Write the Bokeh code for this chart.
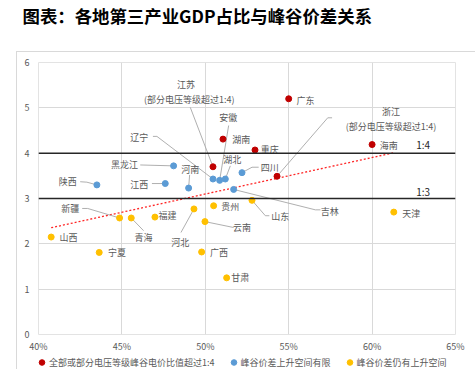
import numpy as np
from bokeh.plotting import figure
from bokeh.layouts import column
from bokeh.models import (Span, Label, Legend, LegendItem, FixedTicker, Title,
                          PrintfTickFormatter, Range1d, InlineStyleSheet)
from bokeh.core.properties import value
from bokeh.embed import file_html
from bokeh.resources import INLINE

FONT = "Noto Sans CJK SC"

title_text = "图表：各地第三产业GDP占比与峰谷价差关系"
series_names = ["全部或部分电压等级峰谷电价比值超过1:4",
                "峰谷价差上升空间有限",
                "峰谷价差仍有上升空间"]
series_colors = ["#C00000", "#5B9BD5", "#FFC000"]

# Series 1: peak/valley ratio above 1:4 (all or some voltage levels)
red_names = ["江苏", "湖南", "广东", "重庆", "浙江", "海南"]
red_x = [50.46, 51.06, 55.0, 52.98, 54.30, 60.0]
red_y = [3.70, 4.31, 5.20, 4.07, 3.49, 4.19]

# Series 2: limited room for the price spread to rise
blue_names = ["陕西", "黑龙江", "江西", "河南", "辽宁", "安徽", "湖北", "四川", "吉林"]
blue_x = [43.5, 48.1, 47.6, 49.0, 50.46, 50.86, 51.2, 52.2, 51.7]
blue_y = [3.30, 3.72, 3.33, 3.23, 3.43, 3.40, 3.43, 3.57, 3.20]

# Series 3: still room to rise
yellow_names = ["山东", "新疆", "青海", "福建", "河北", "贵州", "云南", "山西",
                "宁夏", "广西", "甘肃", "天津"]
yellow_x = [52.8, 44.86, 45.56, 46.98, 49.32, 50.5, 49.98, 40.76, 43.64, 49.78, 51.28, 61.3]
yellow_y = [2.96, 2.57, 2.57, 2.59, 2.77, 2.84, 2.49, 2.15, 1.81, 1.82, 1.25, 2.70]

x_ticks = [40, 45, 50, 55, 60, 65]
y_ticks = [0, 1, 2, 3, 4, 5, 6]
ratio_levels = [4, 3]
ratio_labels = ["1:4", "1:3"]
note_text = "(部分电压等级超过1:4)"

# ---- label layout (positions only) ----
label_pos = {
    "江苏": (48.84, 5.52), "安徽": (51.38, 4.78), "湖南": (52.16, 4.30),
    "湖北": (51.62, 3.85), "四川": (53.86, 3.69), "浙江": (61.14, 4.92),
    "广东": (56.0, 5.17), "重庆": (53.86, 4.09), "海南": (61.0, 4.17),
    "辽宁": (46.04, 4.35), "黑龙江": (45.16, 3.74), "河南": (49.10, 3.63),
    "陕西": (41.76, 3.38), "江西": (46.04, 3.31), "吉林": (57.46, 2.71),
    "山东": (54.50, 2.60), "新疆": (41.9, 2.78), "青海": (46.3, 2.15),
    "福建": (47.74, 2.62), "河北": (48.5, 2.04), "贵州": (51.5, 2.82),
    "云南": (52.2, 2.35), "山西": (41.8, 2.13), "宁夏": (44.7, 1.80),
    "广西": (50.82, 1.80), "甘肃": (52.1, 1.25), "天津": (62.34, 2.68),
}
note_pos = {"江苏": (49.04, 5.19), "浙江": (61.14, 4.59)}
ratio_label_pos = [(63.06, 4.20), (63.06, 3.16)]

leader_paths = {
    "江苏": [(49.1, 5.01)],
    "安徽": [(51.4, 4.61)],
    "湖北": [(51.5, 3.72)],
    "四川": [(53.20, 3.69), (52.80, 3.69)],
    "浙江": [(57.6, 4.78), (57.34, 4.78)],
    "辽宁": [(46.86, 4.37), (47.1, 4.37)],
    "黑龙江": [(46.1, 3.74)],
    "河南": [(49.06, 3.52)],
    "陕西": [(42.5, 3.37), (42.9, 3.36)],
    "江西": [(46.8, 3.33)],
    "吉林": [(56.9, 2.75), (56.6, 2.75)],
    "山东": [(53.84, 2.62), (53.6, 2.62)],
    "新疆": [(42.62, 2.78), (42.95, 2.78)],
    "青海": [(46.3, 2.29)],
    "河北": [(48.54, 2.25)],
    "云南": [(51.7, 2.36)],
}

p = figure(width=475, height=355, output_backend="svg", toolbar_location=None,
           title=None,
           x_range=Range1d(40, 65), y_range=Range1d(0, 6),
           min_border_left=38, min_border_right=20, min_border_top=61,
           min_border_bottom=18)
p.outline_line_color = "#E3E3E3"
p.background_fill_color = "white"
p.border_fill_color = "white"

# title: a blank spacer next to the frame, then the real title above it
p.add_layout(Title(text=" ", text_font_size="1px", standoff=32), "above")
p.add_layout(Title(text=title_text, text_font=FONT, text_font_size="17.4px",
                   text_font_style="bold", text_color="#000000", align="left",
                   offset=-16, standoff=0), "above")

# axes
for ax in (p.xaxis[0], p.yaxis[0]):
    ax.axis_line_color = None
    ax.major_tick_line_color = None
    ax.minor_tick_line_color = None
    ax.major_tick_out = 0
    ax.major_tick_in = 0
    ax.major_label_text_font = FONT
    ax.major_label_text_font_size = "9px"
    ax.major_label_text_color = "#595959"
p.xaxis.ticker = FixedTicker(ticks=x_ticks)
p.yaxis.ticker = FixedTicker(ticks=y_ticks)
p.xaxis.formatter = PrintfTickFormatter(format="%d%%")
p.xaxis.major_label_standoff = 5
p.yaxis.major_label_standoff = 9
p.xgrid.ticker = FixedTicker(ticks=x_ticks)
p.ygrid.ticker = FixedTicker(ticks=y_ticks)
p.xgrid.grid_line_color = "#D9D9D9"
p.ygrid.grid_line_color = "#D9D9D9"

# ratio reference lines
for lv in ratio_levels:
    p.add_layout(Span(location=lv, dimension="width", line_color="#262626",
                      line_width=1.5))
for (lx, ly), t in zip(ratio_label_pos, ratio_labels):
    p.add_layout(Label(x=lx, y=ly, text=t, text_font=FONT, text_font_size="10px",
                       text_color="#262626", text_align="center",
                       text_baseline="middle"))

# trend line (linear fit over all provinces)
all_x = np.array(red_x + blue_x + yellow_x)
all_y = np.array(red_y + blue_y + yellow_y)
k, b = np.polyfit(all_x, all_y, 1)
tx = np.array([all_x.min(), all_x.max()])
p.line(tx, k * tx + b, line_color="#FF0000", line_width=1.3, line_dash="2 2",
       line_alpha=0.85)

# leader lines
point_lookup = {}
for names, xs, ys in ((red_names, red_x, red_y), (blue_names, blue_x, blue_y),
                      (yellow_names, yellow_x, yellow_y)):
    for n, xx, yy in zip(names, xs, ys):
        point_lookup[n] = (xx, yy)
lxs, lys = [], []
for n, pts in leader_paths.items():
    px, py = point_lookup[n]
    lxs.append([q[0] for q in pts] + [px])
    lys.append([q[1] for q in pts] + [py])
p.multi_line(lxs, lys, line_color="#A6A6A6", line_width=0.9)

# points
series = ((red_names, red_x, red_y, series_colors[0]),
          (blue_names, blue_x, blue_y, series_colors[1]),
          (yellow_names, yellow_x, yellow_y, series_colors[2]))
for names, xs, ys, c in series:
    p.scatter(xs, ys, size=6, fill_color=c, line_color=c)

# labels
names_all = list(label_pos.keys())
p.text([label_pos[n][0] for n in names_all], [label_pos[n][1] for n in names_all],
       text=names_all, text_font=value(FONT), text_font_size="9px",
       text_color="#595959", text_align="center", text_baseline="middle")
p.text([v[0] for v in note_pos.values()], [v[1] for v in note_pos.values()],
       text=[note_text] * len(note_pos), text_font=value(FONT), text_font_size="9px",
       text_color="#595959", text_align="center", text_baseline="middle")

# legend strip below the chart (its frame is aligned with the chart's frame)
lg = figure(width=475, height=14, output_backend="svg", toolbar_location=None,
            x_range=Range1d(0, 1), y_range=Range1d(0, 1),
            min_border_left=0, min_border_right=0, min_border_top=0,
            min_border_bottom=0, x_axis_type=None, y_axis_type=None)
lg.outline_line_color = None
lg.xgrid.visible = False
lg.ygrid.visible = False
lg.border_fill_color = "white"
items = []
for (names, xs, ys, c), name in zip(series, series_names):
    # same series data; falls outside this strip's ranges, only the legend glyph shows
    r = lg.scatter(xs, ys, size=6, fill_color=c, line_color=c)
    items.append(LegendItem(label=name, renderers=[r]))
legend = Legend(items=items, location=(-4, 0), orientation="horizontal",
                glyph_width=15, glyph_height=14, label_standoff=0, spacing=11,
                padding=0, margin=0, border_line_color=None,
                background_fill_alpha=0, label_text_font=FONT,
                label_text_font_size="9px", label_text_color="#595959",
                label_height=12)
lg.add_layout(legend)

box_css = InlineStyleSheet(css="""
:host { position: relative; }
:host::after {
  content: ""; position: absolute; left: 16px; top: 51px; right: 0; bottom: 0;
  border-top: 1px solid #D9D9D9; border-left: 1px solid #D9D9D9;
  pointer-events: none; z-index: 10;
}
""")
layout = column(p, lg, spacing=0, stylesheets=[box_css])

open("out.html", "w").write(file_html(layout, INLINE))
